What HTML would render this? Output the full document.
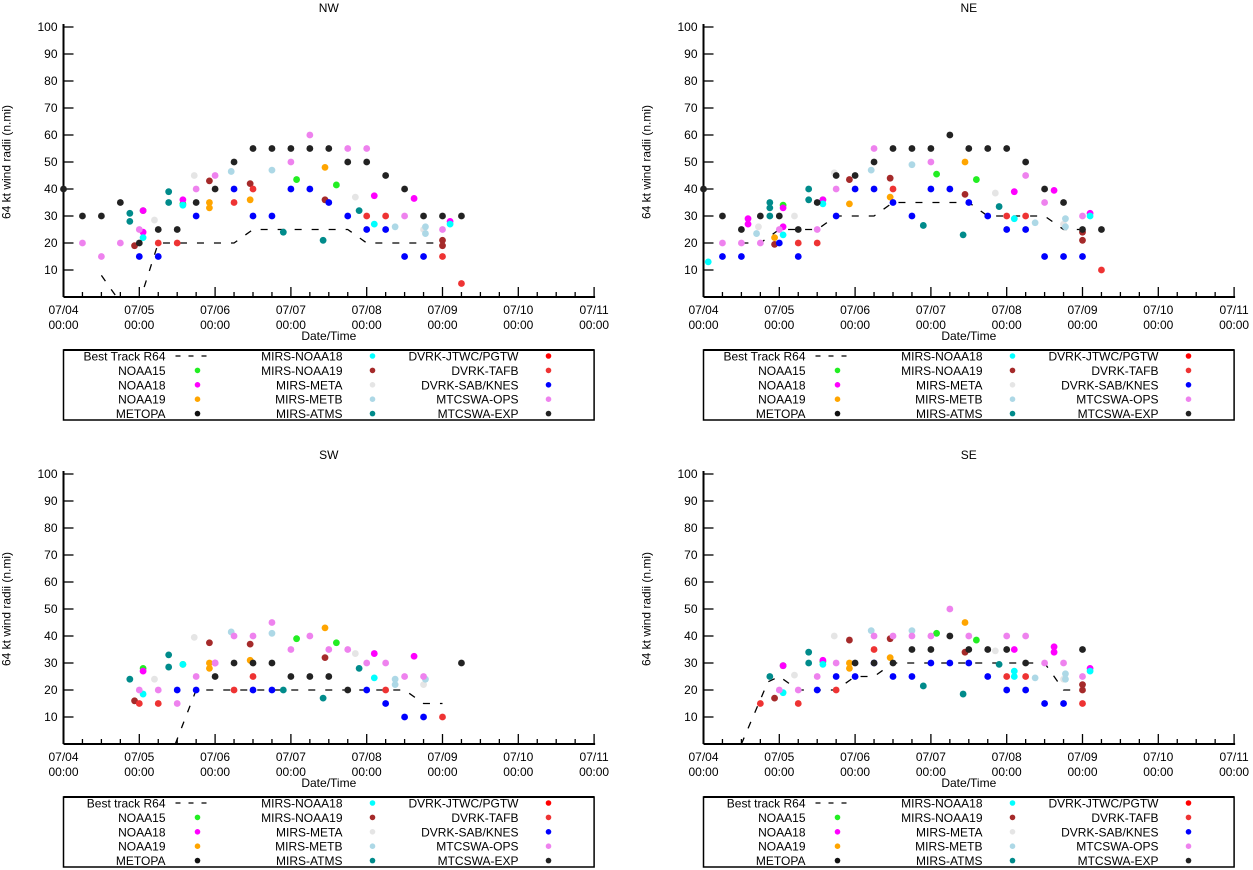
<!DOCTYPE html>
<html><head><meta charset="utf-8"><style>
html,body{margin:0;padding:0;background:#fff;}
svg{display:block;font-family:"Liberation Sans",sans-serif;}
</style></head><body>
<svg id="chart" width="1253" height="870" viewBox="0 0 1253 870" xmlns="http://www.w3.org/2000/svg"></svg>
<script>
// x values in 6-hour steps since 07/04 00:00, y values in n.mi
const xTickLabels = ["07/04","07/05","07/06","07/07","07/08","07/09","07/10","07/11"];
const yTicks = [10,20,30,40,50,60,70,80,90,100];
const seriesNames = ["NOAA15","NOAA18","NOAA19","METOPA","MIRS-NOAA18","MIRS-NOAA19","MIRS-META","MIRS-METB","MIRS-ATMS","DVRK-JTWC/PGTW","DVRK-TAFB","DVRK-SAB/KNES","MTCSWA-OPS","MTCSWA-EXP"];
const seriesColors = ["#22ee22","#ff00ff","#ffa500","#111111","#00ffff","#a52a2a","#e5e5e5","#add8e6","#008b8b","#ff0000","#ee3333","#0000ff","#ee82ee","#222222"];

// NW
const nwBest = [[2,8],[3,-2],[4,-2],[5,20],[9,20],[10,25],[15,25],[16,20],[20,20]];
const nwN15 = [[4.2,32],[6.3,34.5],[12.3,43.5],[14.4,41.5]];
const nwN18 = [[4.2,32],[4.2,24],[6.3,36],[16.4,37.5],[18.5,36.5],[20.4,28]];
const nwN19 = [[7.7,35],[7.7,33],[9.85,36],[13.8,48]];
const nwMirsN18 = [[4.2,22],[6.3,34],[16.4,27],[20.4,27]];
const nwMirsN19 = [[3.75,19],[7.7,43],[9.85,42],[13.8,36],[20,21],[20,19]];
const nwMeta = [[4.8,28.5],[6.9,45],[15.4,37],[19,25]];
const nwMetb = [[8.85,46.5],[11,47],[17.5,26],[19.1,26],[19.1,23.5]];
const nwAtms = [[3.5,31],[3.5,28],[5.55,39],[5.55,35],[11.6,24],[13.7,21],[15.6,32]];
const nwTafb = [[5,20],[6,20],[9,35],[10,40],[16,30],[17,30],[20,15],[21,5]];
const nwSab = [[4,15],[5,15],[7,30],[9,40],[10,30],[11,30],[12,40],[13,40],[14,35],[15,30],[16,25],[17,25],[18,15],[19,15]];
const nwOps = [[1,20],[2,15],[3,20],[4,25],[7,40],[8,45],[12,50],[13,60],[15,55],[16,55],[18,30],[20,25]];
const nwExp = [[0,40],[1,30],[2,30],[3,35],[4,20],[5,25],[6,25],[7,35],[8,40],[9,50],[10,55],[11,55],[12,55],[13,55],[14,55],[15,50],[16,50],[17,45],[18,40],[19,30],[20,30],[21,30]];

// NE
const neBest = [[2,20],[3,20],[4,25],[6,25],[7,30],[9,30],[10,35],[14,35],[15,30],[18,30],[19,25],[20,25]];
const neN15 = [[4.2,34],[6.3,36],[12.3,45.5],[14.4,43.5]];
const neN18 = [[2.35,29],[2.35,27],[4.2,33],[4.2,26],[6.3,36],[16.4,39],[18.5,39.5],[20.4,31]];
const neN19 = [[3.75,22],[7.7,34.5],[9.85,37],[13.8,50]];
const neMirsN18 = [[0.25,13],[4.2,23],[6.3,34.5],[16.4,29],[20.4,30]];
const neMirsN19 = [[3.75,19.5],[7.7,43.5],[9.85,44],[13.8,38],[20,24],[20,21]];
const neMeta = [[2.9,26],[4.8,30],[6.9,46],[15.4,38.5],[19,27]];
const neMetb = [[2.8,23.5],[8.85,47],[11,49],[17.5,27.5],[19.1,29],[19.1,26]];
const neAtms = [[3.5,35],[3.5,33],[3.5,30],[5.55,40],[5.55,36],[11.6,26.5],[13.7,23],[15.6,33.5]];
const neTafb = [[5,20],[6,20],[10,40],[16,30],[17,30],[21,10]];
const neSab = [[1,15],[2,15],[4,20],[5,15],[7,30],[8,40],[9,40],[10,35],[11,30],[12,40],[13,40],[14,35],[15,30],[16,25],[17,25],[18,15],[19,15],[20,15]];
const neOps = [[1,20],[2,20],[3,20],[4,25],[6,25],[7,40],[9,55],[12,50],[17,45],[18,35],[20,30]];
const neExp = [[0,40],[1,30],[2,25],[3,30],[4,30],[5,25],[6,35],[7,45],[8,45],[9,50],[10,55],[11,55],[12,55],[13,60],[14,55],[15,55],[16,55],[17,50],[18,40],[19,35],[20,25],[21,25]];

// SW
const swBest = [[5.9,0],[7,20],[18,20],[19,15],[20,15]];
const swN15 = [[4.2,28],[6.3,29.5],[12.3,39],[14.4,37.5]];
const swN18 = [[4.2,27],[8,30],[16.4,33.5],[18.5,32.5]];
const swN19 = [[7.7,30],[7.7,28],[9.85,31],[13.8,43]];
const swMirsN18 = [[4.2,18.5],[6.3,29.5],[16.4,24.5]];
const swMirsN19 = [[3.75,16],[7.7,37.5],[9.85,37],[13.8,32]];
const swMeta = [[4.8,24],[6.9,39.5],[15.4,33.5],[19,22]];
const swMetb = [[8.85,41.5],[11,41],[17.5,24],[17.5,22],[19.1,24]];
const swAtms = [[3.5,24],[5.55,33],[5.55,28.5],[11.6,20],[13.7,17],[15.6,28]];
const swTafb = [[4,15],[5,15],[9,20],[10,25],[17,20],[20,10]];
const swSab = [[6,20],[7,20],[10,20],[11,20],[16,20],[17,15],[18,10],[19,10]];
const swOps = [[4,20],[5,20],[6,15],[7,25],[8,30],[9,40],[10,40],[11,45],[12,35],[13,40],[14,35],[15,35],[16,30],[17,30],[18,25],[19,25]];
const swExp = [[8,25],[9,30],[10,30],[11,30],[12,25],[13,25],[14,25],[15,20],[21,30]];

// SE
const seBest = [[2,0],[3.4,23],[4,25],[5,20],[7,20],[8,25],[9,25],[10,30],[18,30],[19,20],[20,20]];
const seN15 = [[4.2,29],[6.3,30.5],[12.3,41],[14.4,38.5]];
const seN18 = [[4.2,29],[6.3,31],[16.4,35],[18.5,36],[18.5,34],[20.4,28]];
const seN19 = [[7.7,30],[7.7,28],[9.85,32],[13.8,45]];
const seMirsN18 = [[4.2,19],[6.3,29.5],[16.4,27],[16.4,25],[20.4,27]];
const seMirsN19 = [[3.75,17],[7.7,38.5],[9.85,39],[13.8,34],[20,22],[20,20]];
const seMeta = [[4.8,25.5],[6.9,40],[15.4,34.5],[19,24]];
const seMetb = [[8.85,42],[11,42],[17.5,24.5],[19.1,26],[19.1,24]];
const seAtms = [[3.5,25],[5.55,34],[5.55,30],[11.6,21.5],[13.7,18.5],[15.6,29.5]];
const seTafb = [[3,15],[5,15],[7,20],[9,35],[16,25],[17,25],[20,15]];
const seSab = [[6,20],[7,25],[8,25],[9,30],[10,25],[11,25],[12,30],[13,30],[14,30],[15,25],[16,20],[17,20],[18,15],[19,15]];
const seOps = [[4,20],[5,20],[6,25],[7,30],[9,40],[10,40],[11,40],[12,40],[13,50],[14,40],[16,40],[17,40],[18,30],[19,30],[20,25]];
const seExp = [[8,30],[9,30],[10,30],[11,35],[12,35],[13,40],[14,35],[15,35],[16,35],[17,30],[20,35]];

const NS = "http://www.w3.org/2000/svg";
const svg = document.getElementById("chart");
function mk(tag, attrs, parent, text){
  const e = document.createElementNS(NS, tag);
  for (const k in attrs) e.setAttribute(k, attrs[k]);
  if (text !== undefined) e.textContent = text;
  (parent||svg).appendChild(e);
  return e;
}

const panels = [
  {id:"nw", title:"NW", left:63.5, bottom:297, best:nwBest, bestLabel:"Best Track R64", legTop:350,
   series:[nwN15,nwN18,nwN19,[],nwMirsN18,nwMirsN19,nwMeta,nwMetb,nwAtms,[],nwTafb,nwSab,nwOps,nwExp]},
  {id:"ne", title:"NE", left:703.5, bottom:297, best:neBest, bestLabel:"Best Track R64", legTop:350,
   series:[neN15,neN18,neN19,[],neMirsN18,neMirsN19,neMeta,neMetb,neAtms,[],neTafb,neSab,neOps,neExp]},
  {id:"sw", title:"SW", left:63.5, bottom:744, best:swBest, bestLabel:"Best track R64", legTop:797,
   series:[swN15,swN18,swN19,[],swMirsN18,swMirsN19,swMeta,swMetb,swAtms,[],swTafb,swSab,swOps,swExp]},
  {id:"se", title:"SE", left:703.5, bottom:744, best:seBest, bestLabel:"Best track R64", legTop:797,
   series:[seN15,seN18,seN19,[],seMirsN18,seMirsN19,seMeta,seMetb,seAtms,[],seTafb,seSab,seOps,seExp]}
];

const STEP = 18.95, YS = 2.7;
panels.forEach(p => {
  const g = mk("g", {});
  
  
  const xs = t => p.left + t*STEP;
  const ys = v => p.bottom - v*YS;
  const right = xs(28), top = ys(100);
  const tt = mk("text", {x:(p.left+right)/2, y:p.bottom-285, "font-size":12, "text-anchor":"middle"}, g, p.title);
  
  
  const yl = mk("text", {x:0, y:0, "font-size":12, "text-anchor":"middle", transform:`translate(${p.left-53},${ys(50)}) rotate(-90)`}, g, "64 kt wind radii (n.mi)");
  
  
  const xl = mk("text", {x:(p.left+right)/2, y:p.bottom+43, "font-size":12, "text-anchor":"middle"}, g, "Date/Time");
  
  
  // axes
  mk("line", {x1:p.left, y1:top-3, x2:p.left, y2:p.bottom, stroke:"#000", "stroke-width":2}, g);
  mk("line", {x1:p.left, y1:p.bottom, x2:right+1, y2:p.bottom, stroke:"#000", "stroke-width":2}, g);
  yTicks.forEach(v => {
    mk("line", {x1:p.left, y1:ys(v), x2:p.left+10, y2:ys(v), stroke:"#000", "stroke-width":1.3}, g);
    const l = mk("text", {x:p.left-6, y:ys(v)+4, "font-size":12, "text-anchor":"end"}, g, String(v));
    
    
  });
  for (let i=1;i<=28;i++){
    const major = i%4===0;
    mk("line", {x1:xs(i), y1:p.bottom, x2:xs(i), y2:p.bottom-(major?10:5), stroke:"#000", "stroke-width":1.3}, g);
  }
  xTickLabels.forEach((lab,i) => {
    const l = mk("text", {x:xs(i*4), y:p.bottom+17, "font-size":12, "text-anchor":"middle"}, g, lab);
    
    
    const l2 = mk("text", {x:xs(i*4), y:p.bottom+32, "font-size":12, "text-anchor":"middle"}, g, "00:00");
    
    
  });
  // clip
  const cid = "clip-" + p.id;
  const cp = mk("clipPath", {id:cid}, g);
  mk("rect", {x:p.left, y:top-5, width:right-p.left+5, height:p.bottom-top+5}, cp);
  const best = mk("polyline", {points:p.best.map(d=>xs(d[0])+","+ys(d[1])).join(" "), fill:"none", stroke:"#000", "stroke-width":1.3, "stroke-dasharray":"7,10", "clip-path":`url(#${cid})`}, g);
  
  
  p.series.forEach((arr, si) => {
    arr.forEach(d => {
      const c = mk("circle", {cx:xs(d[0]), cy:ys(d[1]), r:3.4, fill:seriesColors[si]}, g);
      
      
    });
  });
  // legend
  const lg = mk("g", {}, g);
  
  
  const lt = p.legTop;
  mk("rect", {x:p.left, y:lt, width:right-p.left, height:70, fill:"none", stroke:"#000", "stroke-width":1.5}, lg);
  mk("line", {x1:p.left, y1:lt, x2:right, y2:lt, stroke:"#000", "stroke-width":2}, lg);
  const colText = [102, 279, 455], colSym = [134, 309, 485];
  const entries = [p.bestLabel].concat(["NOAA15","NOAA18","NOAA19","METOPA","MIRS-NOAA18","MIRS-NOAA19","MIRS-META","MIRS-METB","MIRS-ATMS","DVRK-JTWC/PGTW","DVRK-TAFB","DVRK-SAB/KNES","MTCSWA-OPS","MTCSWA-EXP"]);
  const entryColors = [null,"#22ee22","#ff00ff","#ffa500","#111111","#00ffff","#a52a2a","#e5e5e5","#add8e6","#008b8b","#ff0000","#ee3333","#0000ff","#ee82ee","#222222"];
  entries.forEach((name, i) => {
    const col = Math.floor(i/5), row = i%5;
    const y = lt + 6 + row*14.4;
    const t = mk("text", {x:p.left+colText[col], y:y+4.5, "font-size":12, "text-anchor":"end"}, lg, name);
    
    
    if (i===0){
      mk("line", {x1:p.left+colSym[0]-22, y1:y, x2:p.left+colSym[0]+14, y2:y, stroke:"#000", "stroke-width":1.3, "stroke-dasharray":"5,8"}, lg);
    } else {
      mk("circle", {cx:p.left+colSym[col], cy:y, r:2.8, fill:entryColors[i]}, lg);
    }
  });
});
</script>
</body></html>
